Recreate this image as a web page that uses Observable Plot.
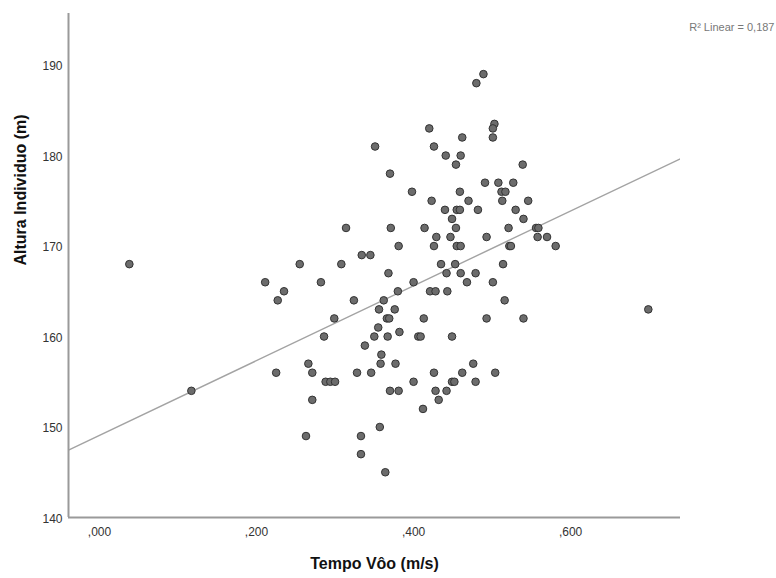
<!DOCTYPE html>
<html><head><meta charset="utf-8">
<script src="https://cdn.jsdelivr.net/npm/d3@7"></script>
<script src="https://cdn.jsdelivr.net/npm/@observablehq/plot@0.6"></script>
<style>body{margin:0;background:#fff}</style>
</head><body><div id="chart"></div>
<script>
const tempoVoo = [0.038,0.117,0.211,0.235,0.227,0.255,0.282,0.308,0.314,0.334,0.345,0.351,0.370,0.371,0.381,0.368,0.324,0.362,0.380,0.356,0.376,0.366,0.369,0.299,0.355,0.382,0.286,0.350,0.367,0.338,0.359,0.358,0.377,0.266,0.225,0.271,0.328,0.346,0.288,0.294,0.300,0.370,0.381,0.271,0.357,0.263,0.333,0.333,0.364,
0.420,0.462,0.503,0.501,0.501,0.426,0.441,0.460,0.454,0.539,0.491,0.508,0.527,0.398,0.459,0.512,0.517,0.423,0.470,0.513,0.546,0.440,0.455,0.459,0.482,0.530,0.449,0.540,0.414,0.454,0.521,0.556,0.559,0.429,0.447,0.493,0.558,0.570,0.426,0.455,0.460,0.522,0.524,0.581,0.435,0.453,0.514,0.442,0.460,0.479,0.400,0.468,0.501,0.421,0.428,0.443,0.516,
0.413,0.493,0.540,0.406,0.409,0.449,0.476,0.426,0.462,0.504,0.400,0.449,0.452,0.479,0.428,0.442,0.432,0.412,0.489,0.480,0.699];
const altura = [168,154,166,165,164,168,166,168,172,169,169,181,178,172,170,167,164,164,165,163,163,162,162,162,161,160.5,160,160,160,159,158,157,157,157,156,156,156,156,155,155,155,154,154,153,150,149,149,147,145,
183,182,183.5,183,182,181,180,180,179,179,177,177,177,176,176,176,176,175,175,175,175,174,174,174,174,174,173,173,172,172,172,172,172,171,171,171,171,171,170,170,170,170,170,170,168,168,168,167,167,167,166,166,166,165,165,165,164,
162,162,162,160,160,160,157,156,156,156,155,155,155,155,154,154,153,152,189,188,163];
const xTicks = [0, 0.2, 0.4, 0.6];
const yTicks = [140, 150, 160, 170, 180, 190];
const xDomain = [-0.0395, 0.740];
const yDomain = [140, 195.7];
const xTitle = "Tempo Vôo (m/s)";
const yTitle = "Altura Individuo (m)";
const r2Label = "R² Linear = 0,187";

const data = tempoVoo.map((x, i) => ({x, y: altura[i]}));
// least-squares fit line over the full x domain
const mx = d3.mean(tempoVoo), my = d3.mean(altura);
const b = d3.sum(data, d => (d.x - mx) * (d.y - my)) / d3.sum(data, d => (d.x - mx) ** 2);
const a = my - b * mx;
const fit = xDomain.map(x => ({x, y: a + b * x}));

const fmt = v => v.toFixed(3).replace(/^0\./, ",");

const chart = Plot.plot({
  width: 776, height: 578,
  marginLeft: 68, marginRight: 96, marginTop: 13, marginBottom: 61,
  style: {fontFamily: "'Liberation Sans', Arial, sans-serif", fontSize: "12px", color: "#333", background: "#fff"},
  x: {domain: xDomain},
  y: {domain: yDomain},
  marks: [
    Plot.line(fit, {x: "x", y: "y", stroke: "#a3a3a3", strokeWidth: 1.4, clip: true}),
    Plot.ruleY([yDomain[0]], {stroke: "#9a9a9a", strokeWidth: 2}),
    Plot.ruleX([xDomain[0]], {stroke: "#9a9a9a", strokeWidth: 2}),
    Plot.axisX({ticks: xTicks, tickSize: 0, tickPadding: 10, tickFormat: fmt, label: null, fontSize: 12}),
    Plot.axisY({ticks: yTicks, tickSize: 0, tickPadding: 6, label: null, fontSize: 12, dy: 1.5}),
    Plot.dot(data, {x: "x", y: "y", r: 3.8, fill: "#6c6c6c", stroke: "#333", strokeWidth: 1, fillOpacity: 1}),
    Plot.text([xTitle], {frameAnchor: "bottom", dy: 51, text: d => d, fontSize: 16, fontWeight: "bold", fill: "#111"}),
    Plot.text([yTitle], {frameAnchor: "left", dx: -48, rotate: -90, text: d => d, fontSize: 16, fontWeight: "bold", fill: "#111"}),
    Plot.text([r2Label], {frameAnchor: "top-right", dx: 94, dy: 10, textAnchor: "end", text: d => d, fontSize: 11, fill: "#777"})
  ]
});
document.getElementById("chart").appendChild(chart);
</script>
</body></html>
